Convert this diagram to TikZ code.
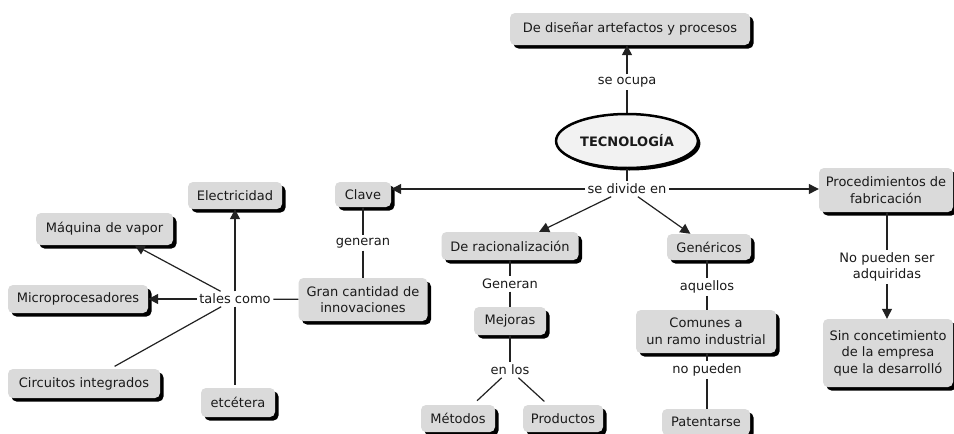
\documentclass[tikz,border=0pt]{standalone}
\usepackage{fontspec}
\setmainfont{DejaVu Sans}
\usetikzlibrary{shadows,arrows.meta,shapes.geometric}
\definecolor{boxfill}{HTML}{DADADA}
\definecolor{txt}{HTML}{1A1A1A}
\definecolor{ln}{HTML}{222222}
\begin{document}
\begin{tikzpicture}[x=1pt,y=-1pt,
  every node/.style={font=\fontsize{13}{16.5}\selectfont, text=txt},
  box/.style={rounded corners=5pt, fill=boxfill, inner sep=0pt, align=center,
    drop shadow={shadow xshift=3.5pt,shadow yshift=-3.5pt,opacity=1,fill=black}},
  lbl/.style={inner sep=2.5pt, align=center},
  con/.style={draw=ln, line width=1.2pt},
  arr/.style={con, -{Triangle[length=10pt,width=10pt]}},
]
\useasboundingbox (0,0) rectangle (954,434);
\fill[white] (0,0) rectangle (954,434);

% nodes
\node[ellipse, draw=black, line width=2.5pt, fill=white!95!black, minimum width=124pt, minimum height=54pt,
  drop shadow={shadow xshift=2.5pt,shadow yshift=-2.5pt,opacity=1,fill=black}] (tec) at (627,141) {\textbf{TECNOLOGÍA}};
\node[box, minimum width=240pt, minimum height=32pt] (dis) at (630,29) {De diseñar artefactos y procesos};
\node[lbl] (seocupa) at (627,82) {se ocupa};
\node[lbl] (sedivide) at (627,189) {se divide en};

\node[box, minimum width=56pt, minimum height=25pt] (clave) at (363,194.5) {Clave};
\node[lbl] (generan) at (363,243) {generan};
\node[box, minimum width=129pt, minimum height=43pt] (gran) at (363,299.5) {Gran cantidad de\\innovaciones};
\node[lbl] (tales) at (235,299) {tales como};

\node[box, minimum width=94pt, minimum height=27pt] (elec) at (235,195.5) {Electricidad};
\node[box, minimum width=137pt, minimum height=32pt] (maq) at (104.5,229) {Máquina de vapor};
\node[box, minimum width=140pt, minimum height=28pt] (micro) at (78,299) {Microprocesadores};
\node[box, minimum width=152pt, minimum height=29pt] (circ) at (84,383.5) {Circuitos integrados};
\node[box, minimum width=74pt, minimum height=29pt] (etc) at (238,402.5) {etcétera};

\node[box, minimum width=137pt, minimum height=28pt] (racio) at (510,246) {De racionalización};
\node[lbl] (Generan) at (510,284) {Generan};
\node[box, minimum width=72pt, minimum height=28pt] (mej) at (510,321) {Mejoras};
\node[lbl] (enlos) at (510,370) {en los};
\node[box, minimum width=74pt, minimum height=27pt] (met) at (458,418.5) {Métodos};
\node[box, minimum width=80pt, minimum height=27pt] (prod) at (563,418.5) {Productos};

\node[box, minimum width=84pt, minimum height=26pt] (gen) at (709,247) {Genéricos};
\node[lbl] (aquellos) at (707,287) {aquellos};
\node[box, minimum width=140pt, minimum height=43pt] (com) at (706,331.5) {Comunes a\\un ramo industrial};
\node[lbl] (nopueden) at (707,370) {no pueden};
\node[box, minimum width=88pt, minimum height=26pt] (pat) at (706,422) {Patentarse};

\node[box, minimum width=134pt, minimum height=44pt] (proc) at (886,190) {Procedimientos de\\fabricación};
\node[lbl] (nopser) at (887,267) {No pueden ser\\adquiridas};
\node[box, minimum width=130pt, minimum height=68pt] (sin) at (888,353) {Sin concetimiento\\de la empresa\\que la desarrolló};

% connectors
\draw[con] (tec) -- (seocupa);
\draw[arr] (seocupa) -- (seocupa |- dis.south);
\draw[con] (tec) -- (sedivide);
\draw[arr] (sedivide) -- (sedivide -| clave.east);
\draw[arr] (sedivide) -- (sedivide -| proc.west);
\draw[arr] (sedivide) -- (racio);
\draw[arr] (sedivide) -- (gen);

\draw[con] (clave) -- (generan);
\draw[con] (generan) -- (gran);
\draw[con] (gran) -- (tales);
\draw[arr] (tales) -- (elec);
\draw[arr] (tales) -- (maq);
\draw[arr] (tales) -- (micro);
\draw[con, shorten >=5pt] (tales) -- (circ);
\draw[con, shorten >=3pt] (tales) -- (tales |- etc.north);

\draw[con] (racio) -- (Generan);
\draw[con] (Generan) -- (mej);
\draw[con] (mej) -- (enlos);
\draw[con, shorten >=6pt] (enlos) -- (met);
\draw[con, shorten >=5pt] (enlos) -- (prod);

\draw[con] (aquellos) -- (aquellos |- gen.south);
\draw[con] (aquellos) -- (aquellos |- com.north);
\draw[con] (nopueden) -- (nopueden |- com.south);
\draw[con] (nopueden) -- (nopueden |- pat.north);

\draw[con] (nopser) -- (nopser |- proc.south);
\draw[arr] (nopser) -- (nopser |- sin.north);
\end{tikzpicture}
\end{document}
